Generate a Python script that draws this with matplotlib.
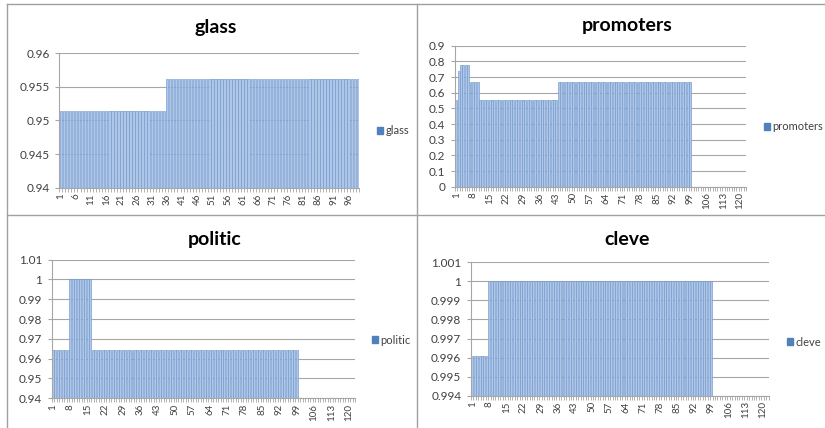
import numpy as np
import matplotlib
matplotlib.use("Agg")
import matplotlib.pyplot as plt
from matplotlib.patches import Patch
from matplotlib.ticker import FuncFormatter, MultipleLocator

plt.rcParams['font.family'] = ['Lato', 'DejaVu Sans']

# step values, stored as (level, number of categories)
glass_levels = [0.9514, 0.9562]
glass_counts = [35, 64]

promoters_levels = [0.5556, 0.7407, 0.7778, 0.6667, 0.5556, 0.6667, 0.0]
promoters_counts = [1, 1, 4, 4, 33, 56, 23]

politic_levels = [0.9643, 1.0, 0.9643, 0.0]
politic_counts = [7, 9, 83, 23]

cleve_levels = [0.9961, 1.0, 0.0]
cleve_counts = [7, 92, 23]

W, H = 825, 428
fig = plt.figure(figsize=(W / 100, H / 100), dpi=100)
fig.patch.set_facecolor('white')

FILL = '#AFC6E6'
EDGE = '#7098CE'
GRID = '#A6A6A6'
TXT = '#404040'


def px_axes(left, right, top, bottom):
    return fig.add_axes([left / W, 1 - bottom / H, (right - left) / W, (bottom - top) / H])


def panel(box, name, levels, counts, ylim, ystep, label_every, title_xy, legend_xy):
    vals = np.repeat(levels, counts)
    n = len(vals)
    ax = px_axes(*box)
    x = np.arange(n)
    ax.bar(x, vals, width=0.8, color=FILL, edgecolor=EDGE, linewidth=0.45, zorder=2)
    ax.set_xlim(-0.5, n - 0.5)
    ax.set_ylim(*ylim)
    ax.yaxis.set_major_locator(MultipleLocator(ystep))
    ax.yaxis.set_major_formatter(FuncFormatter(lambda v, p: '%g' % round(v, 6)))
    ax.grid(axis='y', color=GRID, linewidth=0.8, zorder=1)
    ax.set_axisbelow(True)
    for s in ['top', 'right']:
        ax.spines[s].set_visible(False)
    for s in ['left', 'bottom']:
        ax.spines[s].set_color(GRID)
        ax.spines[s].set_linewidth(0.8)
    pos = np.arange(0, n, label_every)
    ax.set_xticks(pos)
    ax.set_xticklabels([str(p + 1) for p in pos], rotation=90, fontsize=7, color=TXT)
    ax.set_xticks(np.arange(n + 1) - 0.5, minor=True)
    ax.tick_params(axis='x', which='major', length=0, pad=4)
    ax.tick_params(axis='x', which='minor', length=3, color=GRID, width=0.6)
    ax.tick_params(axis='y', length=3, color=GRID, labelsize=8.5, labelcolor=TXT, pad=4)
    fig.text(title_xy[0] / W, 1 - title_xy[1] / H, name, ha='center', va='center',
             fontsize=14, fontweight='bold', color='black')
    fig.legend(handles=[Patch(color='#4F81BD', label=name)], loc='center left',
               bbox_to_anchor=(legend_xy[0] / W, 1 - legend_xy[1] / H),
               frameon=False, fontsize=8, handlelength=0.5, handleheight=0.5,
               handletextpad=0.25, borderaxespad=0, borderpad=0, labelcolor=TXT)
    return ax


panel((59.3, 359.3, 53.3, 187.7), 'glass', glass_levels, glass_counts,
      (0.94, 0.96), 0.005, 5, (216, 28), (377, 131))
panel((455, 746, 45.7, 186.7), 'promoters', promoters_levels, promoters_counts,
      (0, 0.9), 0.1, 7, (627, 25), (764, 127))
panel((51.7, 355, 259.7, 398.3), 'politic', politic_levels, politic_counts,
      (0.94, 1.01), 0.01, 7, (215, 239), (372, 340))
panel((471, 768.7, 262.3, 395.7), 'cleve', cleve_levels, cleve_counts,
      (0.994, 1.001), 0.001, 7, (627, 239), (787, 342))

# panel borders
border = dict(color='#A0A0A0', linewidth=1.0, transform=fig.transFigure)
fig.add_artist(plt.Line2D([6.7 / W, 1], [1 - 4 / H, 1 - 4 / H], **border))
fig.add_artist(plt.Line2D([6.7 / W, 6.7 / W], [0, 1 - 4 / H], **border))
fig.add_artist(plt.Line2D([6.7 / W, 1], [1 - 215 / H, 1 - 215 / H], **border))
fig.add_artist(plt.Line2D([417 / W, 417 / W], [0, 1 - 4 / H], **border))

fig.savefig('out.png', dpi=100)
